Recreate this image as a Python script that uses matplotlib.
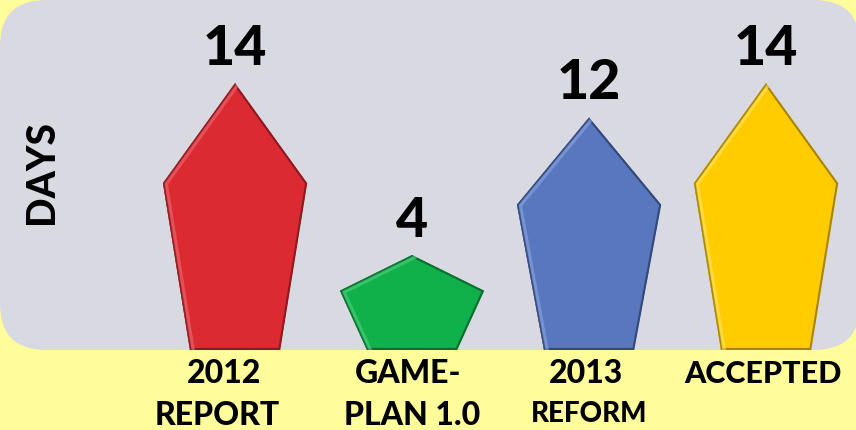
import matplotlib
matplotlib.use("Agg")
import matplotlib.pyplot as plt
from matplotlib.patches import Polygon, FancyBboxPatch
from matplotlib.transforms import blended_transform_factory

# ---- data ----
cat_line1 = ["2012", "GAME-", "2013", "ACCEPTED"]
cat_line2 = ["REPORT", "PLAN 1.0", "REFORM", ""]
days = [14, 4, 12, 14]
colors = ["#DC2A33", "#10B04A", "#5877BE", "#FFCC00"]
edge_colors = ["#8E1A20", "#0A6E2E", "#34487A", "#A98400"]
light_colors = ["#F06A70", "#4FD27F", "#8EA6E4", "#FFE466"]
y_label = "DAYS"

FONT = ["Lato", "DejaVu Sans"]
plt.rcParams["font.family"] = FONT

W, H = 856, 430
fig = plt.figure(figsize=(W / 100, H / 100), dpi=100)
fig.patch.set_facecolor("#FFFD9B")

# background rounded panel
bg = fig.add_axes([0, 0, 1, 1])
bg.set_xlim(0, W)
bg.set_ylim(H, 0)
bg.axis("off")
bg.add_patch(FancyBboxPatch((0, 0), W + 4, 350,
                            boxstyle="round,pad=0,rounding_size=46",
                            facecolor="#D9D9E1", edgecolor="none"))

# main axes
ax = fig.add_axes([0, 80 / H, 1, 350 / H])
ax.patch.set_alpha(0)
ax.axis("off")
ymin, ymax = -1.52, 18.83
ax.set_xlim(-1.328, 3.508)
ax.set_ylim(ymin, ymax)

shoulder_w = 0.815
bottom_w = 0.51
for i, v in enumerate(days):
    h = v - ymin
    ys = v - 0.375 * h
    pts = [(i - bottom_w / 2, ymin), (i - shoulder_w / 2, ys), (i, v),
           (i + shoulder_w / 2, ys), (i + bottom_w / 2, ymin)]
    poly = Polygon(pts, closed=True, facecolor=colors[i],
                   edgecolor=edge_colors[i], linewidth=3.0, zorder=2,
                   joinstyle="miter")
    ax.add_patch(poly)
    poly.set_clip_path(poly)
    lx = [pts[0][0], pts[1][0], pts[2][0]]
    ly = [pts[0][1], pts[1][1], pts[2][1]]
    line, = ax.plot(lx, ly, color=light_colors[i], lw=7, alpha=0.6,
                    zorder=3, solid_joinstyle="miter")
    line.set_clip_path(poly)
    inner, = ax.plot(lx, ly, color=edge_colors[i], lw=2.2, alpha=0.9,
                     zorder=4, solid_joinstyle="miter")
    inner.set_clip_path(poly)
    ax.annotate(str(v), xy=(i, v), xytext=(0, 13), textcoords="offset points",
                ha="center", va="baseline", fontsize=40, fontweight="black",
                color="black", zorder=5)

# category labels
tr = blended_transform_factory(ax.transData, fig.transFigure)
for i in range(len(days)):
    ax.text(i - 0.06 if i == 0 else i - 0.02, 1 - 383 / H, cat_line1[i],
            transform=tr, ha="center", va="baseline",
            fontsize=22 if len(cat_line1[i]) > 6 else 23,
            fontweight="black", color="black")
    if cat_line2[i]:
        small = cat_line2[i] == "REFORM"
        ax.text(i - 0.1 if i == 0 else i, 1 - (422 if small else 425) / H,
                cat_line2[i], transform=tr, ha="center", va="baseline",
                fontsize=20 if small else 23, fontweight="black", color="black")

fig.text(41 / W, 1 - 172 / H, y_label, rotation=90, ha="center", va="center",
         fontsize=28, fontweight="black", color="black")

fig.savefig("out.png", dpi=100, facecolor=fig.get_facecolor())
